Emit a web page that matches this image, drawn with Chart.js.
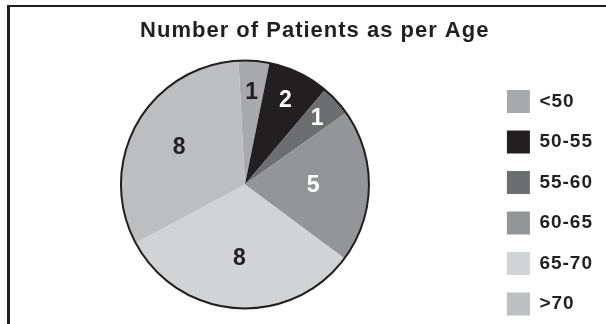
<!DOCTYPE html>
<html>
<head>
<meta charset="utf-8">
<script src="https://cdn.jsdelivr.net/npm/chart.js@4.4.1/dist/chart.umd.min.js"></script>
<style>
  html, body { margin: 0; padding: 0; background: #fff; overflow: hidden; }
  .frame {
    position: absolute; left: 7px; top: 5px; width: 800px; height: 500px;
    border-left: 3px solid #231f20; border-top: 2px solid #231f20;
  }
  .chart-box { position: absolute; left: 0; top: 0; }
</style>
</head>
<body>
<div class="frame"></div>
<div class="chart-box"><canvas id="ageChart" width="606" height="340"></canvas></div>
<script>
// data
const ageGroups = ['<50', '50-55', '55-60', '60-65', '65-70', '>70'];
const patientCounts = [1, 2, 1, 5, 8, 8];
const sliceColors = ['#a7a9ab', '#231f20', '#6d6e70', '#939598', '#d1d3d4', '#bcbec0'];
const valueColors = ['#231f20', '#ffffff', '#ffffff', '#ffffff', '#231f20', '#231f20'];
const chartTitle = 'Number of Patients as per Age';

// the original lettering is a touch wider than Liberation Sans
const wideText = {
    id: 'wideText',
    beforeDraw(chart) { chart.ctx.letterSpacing = '1px'; },
    beforeDatasetsDraw(chart) { chart.ctx.letterSpacing = '0px'; }
};

// numbers inside the slices + dark rim round the pie
const sliceValueLabels = {
    id: 'sliceValueLabels',
    afterDatasetsDraw(chart, args, opts) {
        const ctx = chart.ctx;
        const meta = chart.getDatasetMeta(0);
        const values = chart.data.datasets[0].data;
        ctx.save();
        ctx.font = opts.font;
        ctx.textAlign = 'center';
        ctx.textBaseline = 'middle';
        meta.data.forEach((arc, i) => {
            const p = arc.getProps(['x', 'y', 'startAngle', 'endAngle', 'outerRadius'], true);
            const mid = (p.startAngle + p.endAngle) / 2;
            const r = p.outerRadius * opts.radius[i];
            ctx.fillStyle = opts.colors[i];
            ctx.fillText(String(values[i]), p.x + Math.cos(mid) * r, p.y + Math.sin(mid) * r);
        });
        const first = meta.data[0];
        ctx.beginPath();
        ctx.arc(first.x, first.y, first.outerRadius, 0, Math.PI * 2);
        ctx.lineWidth = opts.rimWidth;
        ctx.strokeStyle = opts.rimColor;
        ctx.stroke();
        ctx.restore();
    }
};

const ctx = document.getElementById('ageChart').getContext('2d');
new Chart(ctx, {
    type: 'pie',
    data: {
        labels: ageGroups,
        datasets: [{
            data: patientCounts,
            backgroundColor: sliceColors,
            borderWidth: 0,
            clip: false
        }]
    },
    options: {
        responsive: false,
        animation: false,
        events: [],
        rotation: -3,
        radius: 124,
        layout: { padding: { left: 0.5, right: 8, top: 8, bottom: 7 } },
        plugins: {
            title: {
                display: true,
                text: chartTitle,
                fullSize: false,
                align: 'end',
                color: '#231f20',
                font: { family: 'Liberation Sans', size: 22, weight: 'bold' },
                padding: { top: 10, bottom: -8.4 }
            },
            legend: {
                position: 'right',
                align: 'end',
                labels: {
                    boxWidth: 23,
                    boxHeight: 23,
                    padding: 17.5,
                    color: '#231f20',
                    font: { family: 'Liberation Sans', size: 19, weight: 'bold' }
                }
            },
            tooltip: { enabled: false },
            sliceValueLabels: {
                font: 'bold 23px "Liberation Sans"',
                colors: valueColors,
                radius: [0.74, 0.75, 0.79, 0.55, 0.6, 0.61],
                rimWidth: 2,
                rimColor: '#231f20'
            }
        }
    },
    plugins: [wideText, sliceValueLabels]
});
</script>
</body>
</html>
